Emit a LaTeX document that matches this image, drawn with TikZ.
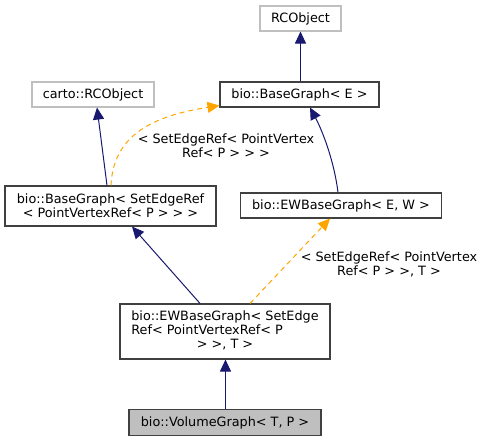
\documentclass[tikz,border=0pt]{standalone}
\usepackage{fontspec}
\setmainfont{DejaVu Sans}
\usetikzlibrary{arrows.meta,calc}
\definecolor{edgeblue}{HTML}{191970}
\definecolor{edgeorange}{HTML}{FFA500}
\definecolor{boxborder}{HTML}{404040}
\definecolor{grayborder}{HTML}{BFBFBF}
\definecolor{volfill}{HTML}{BFBFBF}
\begin{document}
\begin{tikzpicture}[x=1pt,y=-1pt,
  every node/.style={font=\fontsize{12.8}{14}\selectfont, inner sep=0pt, text=black},
  cls/.style={draw=boxborder, line width=1.1pt, fill=white, align=center},
  ext/.style={draw=grayborder, line width=1.1pt, fill=white, align=center},
  cur/.style={draw=boxborder, line width=1.1pt, fill=volfill, align=center},
  inh/.style={draw=edgeblue, line width=1pt, -{Triangle[length=12pt,width=11pt]}},
  tmpl/.style={draw=edgeorange, line width=1pt, dash pattern=on 5pt off 4pt, -{Triangle[length=12pt,width=11pt]}},
  lbl/.style={align=center}
]
\useasboundingbox (0,0) rectangle (485,441);
\node[ext, minimum width=81pt, minimum height=25pt] (rco) at (300.5,18.5) {RCObject};
\node[cls, minimum width=159pt, minimum height=25pt] (bge) at (299.5,94.5) {bio::BaseGraph< E >};
\node[ext, minimum width=122pt, minimum height=25pt] (crco) at (93,94.5) {carto::RCObject};
\node[cls, minimum width=211pt, minimum height=40pt] (bgs) at (110.5,206) {bio::BaseGraph< SetEdgeRef\\< PointVertexRef< P > > >};
\node[cls, minimum width=201pt, minimum height=25pt] (ewe) at (341,205.5) {bio::EWBaseGraph< E, W >};
\node[cls, minimum width=210pt, minimum height=55pt] (ews) at (225,331.5) {\begin{tabular}{@{}l@{}}bio::EWBaseGraph< SetEdge\\Ref< PointVertexRef< P\\\multicolumn{1}{@{}c@{}}{> >, T >}\end{tabular}};
\node[cur, minimum width=192pt, minimum height=26pt] (vol) at (225,422.5) {bio::VolumeGraph< T, P >};

\draw[inh] ([xshift=1pt]bge.north) -- ([xshift=0pt]rco.south);
\draw[inh] ([xshift=-3.5pt]bgs.north) -- ([xshift=4pt]crco.south);
\draw[tmpl] ([xshift=0.5pt]bgs.north) .. controls (113,140) and (145,117) .. ($(bge.south west)+(0,-2)$);
\draw[inh] ([xshift=-3pt]ewe.north) .. controls (334,160) and (322,130) .. ([xshift=10.5pt]bge.south);
\draw[inh] ([xshift=-25pt]ews.north) -- ([xshift=21.5pt]bgs.south);
\draw[tmpl] ([xshift=25pt]ews.north) -- ([xshift=-11pt]ewe.south);
\draw[inh] ([xshift=0.5pt]vol.north) -- ([xshift=0.5pt]ews.south);

\node[lbl] (l1) at (226,145.5) {< SetEdgeRef< PointVertex\\Ref< P > > >};
\node[lbl] (l2) at (389,264) {< SetEdgeRef< PointVertex\\Ref< P > >, T >};
\end{tikzpicture}
\end{document}
